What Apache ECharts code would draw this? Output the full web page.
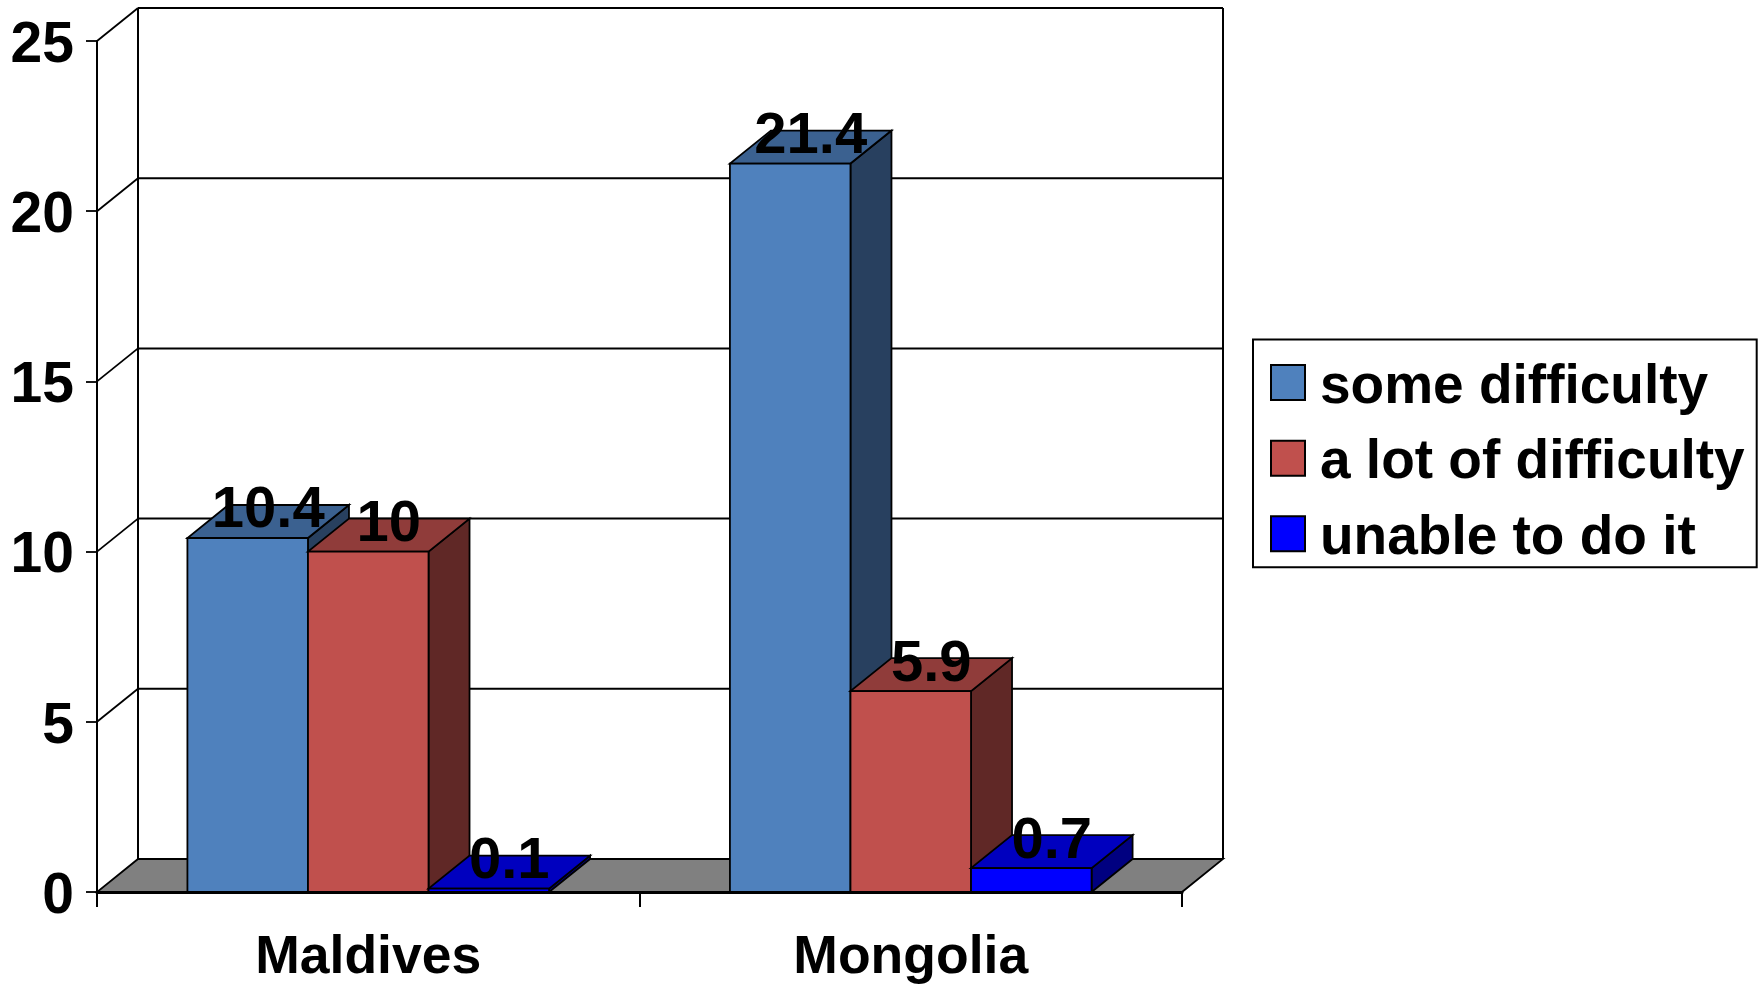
<!DOCTYPE html>
<html><head><meta charset="utf-8">
<style>html,body{margin:0;padding:0;background:#fff}#c{width:1764px;height:985px}</style>
<script src="https://cdn.jsdelivr.net/npm/echarts@6/dist/echarts.min.js"></script>
</head><body><div id="c"></div>
<script>
const categories = ['Maldives', 'Mongolia'];
const someDifficulty = [10.4, 21.4];
const aLotOfDifficulty = [10, 5.9];
const unableToDoIt = [0.1, 0.7];
const valueTicks = [0, 5, 10, 15, 20, 25];
const seriesNames = ['some difficulty', 'a lot of difficulty', 'unable to do it'];
const frontColors = ['#4F81BD', '#C0504D', '#0000FF'];
const topColors = ['#3B6190', '#903C3A', '#0000BF'];
const sideColors = ['#28405F', '#602826', '#000080'];

const DX = 41, DY = 33, FONT = 'Liberation Sans', BAND_UNITS = 4.5;
const stroke = { stroke: '#000', lineWidth: 1.8, lineJoin: 'miter' };

function frame(params, api) {
  const cs = params.coordSys;
  const v = api.value(0);
  const y = api.coord([0, v])[1];
  const L = cs.x, R = cs.x + cs.width;
  const kids = [];
  if (v === 0) {
    kids.push({ type: 'polygon', shape: { points: [[L, y], [R, y], [R + DX, y - DY], [L + DX, y - DY]] },
      style: { fill: '#808080', stroke: '#000', lineWidth: 1.8 } });
    kids.push({ type: 'line', shape: { x1: L + DX, y1: cs.y - DY, x2: L + DX, y2: y - DY }, style: { stroke: '#000', lineWidth: 2 } });
    kids.push({ type: 'line', shape: { x1: R + DX, y1: cs.y - DY, x2: R + DX, y2: y - DY }, style: { stroke: '#000', lineWidth: 2 } });
  } else {
    kids.push({ type: 'line', shape: { x1: L + DX, y1: y - DY, x2: R + DX, y2: y - DY }, style: { stroke: '#000', lineWidth: 2 } });
    kids.push({ type: 'line', shape: { x1: L, y1: y, x2: L + DX, y2: y - DY }, style: { stroke: '#000', lineWidth: 1.8 } });
  }
  return { type: 'group', children: kids };
}

function bar3d(si) {
  return function (params, api) {
    const c = api.value(0), v = api.value(1);
    const center = api.coord([c, 0]);
    const w = api.size([1, 0])[0] / BAND_UNITS;
    const x0 = center[0] - 1.5 * w + si * w, x1 = x0 + w;
    const y0 = center[1], yt = api.coord([c, v])[1];
    return { type: 'group', children: [
      { type: 'polygon', shape: { points: [[x1, y0], [x1 + DX, y0 - DY], [x1 + DX, yt - DY], [x1, yt]] },
        style: Object.assign({ fill: sideColors[si] }, stroke) },
      { type: 'polygon', shape: { points: [[x0, yt], [x1, yt], [x1 + DX, yt - DY], [x0 + DX, yt - DY]] },
        style: Object.assign({ fill: topColors[si] }, stroke) },
      { type: 'rect', shape: { x: x0, y: yt, width: w, height: y0 - yt },
        style: Object.assign({ fill: frontColors[si] }, stroke) },
      { type: 'text', z2: 10, style: { x: x0 + w / 2 + DX / 2, y: yt - DY / 2 - 10, text: String(v),
        align: 'center', verticalAlign: 'middle', fill: '#000', font: 'bold 58px "' + FONT + '"' } }
    ] };
  };
}

const values = [someDifficulty, aLotOfDifficulty, unableToDoIt];
const chart = echarts.init(document.getElementById('c'), null, { renderer: 'canvas' });
chart.setOption({
  animation: false,
  backgroundColor: '#fff',
  grid: { left: 97, right: 582, top: 41, bottom: 90.5 },
  xAxis: { type: 'category', data: categories, z: 3,
    axisLine: { show: true, lineStyle: { color: '#000', width: 3 } },
    axisTick: { show: true, length: 15, alignWithLabel: false, lineStyle: { color: '#000', width: 2 } },
    axisLabel: { show: true, interval: 0, margin: 39, color: '#000', fontFamily: FONT, fontWeight: 'bold', fontSize: 53.5 },
    splitLine: { show: false } },
  yAxis: { type: 'value', min: 0, max: 25, interval: 5, z: 3,
    axisLine: { show: true, lineStyle: { color: '#000', width: 2 } },
    axisTick: { show: true, length: 11, lineStyle: { color: '#000', width: 1.8 } },
    axisLabel: { margin: 23, color: '#000', fontFamily: FONT, fontWeight: 'bold', fontSize: 57, verticalAlign: 'top', lineHeight: 10 },
    splitLine: { show: false } },
  legend: {
    left: 1253, top: 339.5, orient: 'vertical', selectedMode: false,
    padding: [20.6, 12, 1, 17], itemGap: 20.6, itemWidth: 34, itemHeight: 35,
    backgroundColor: '#fff', borderColor: '#000', borderWidth: 2,
    data: seriesNames.map(n => ({ name: n, icon: 'rect' })),
    itemStyle: { borderColor: '#000', borderWidth: 2 },
    formatter: '{t|{name}}',
    textStyle: { color: '#000', fontFamily: FONT, fontWeight: 'bold', fontSize: 55,
      rich: { t: { color: '#000', fontFamily: FONT, fontWeight: 'bold', fontSize: 55, padding: [10, 0, 0, 10] } } }
  },
  series: [
    { type: 'custom', silent: true, z: 1, renderItem: frame, data: valueTicks.map(v => [v]), encode: { y: 0 }, clip: false },
    ...seriesNames.map((n, i) => ({
      type: 'custom', name: n, silent: true, z: 2, clip: false,
      itemStyle: { color: frontColors[i] },
      renderItem: bar3d(i),
      data: values[i].map((v, c) => [c, v]),
      encode: { x: 0, y: 1 }
    }))
  ]
});
</script></body></html>
